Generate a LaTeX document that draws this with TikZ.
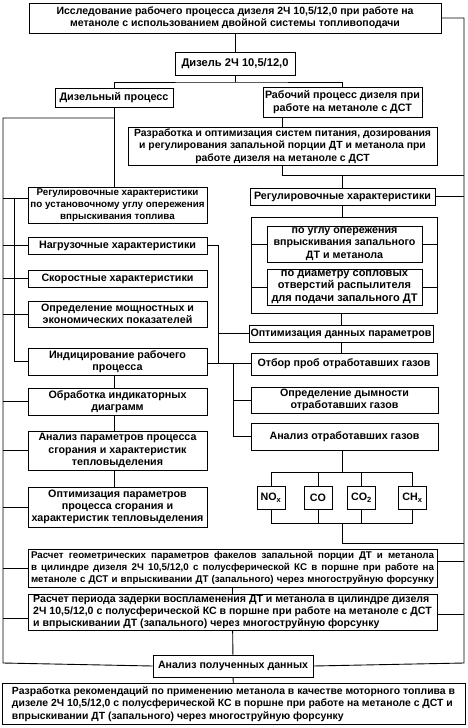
\documentclass[tikz,border=0pt]{standalone}
\usepackage{fontspec}
\setmainfont{Liberation Sans}
\usepackage{tikz}
% font size chosen so that the given line comes out #1 pt wide
\newlength{\fitw}
\newcommand{\fitfont}[2]{%
  \settowidth{\fitw}{\bfseries\fontsize{10}{12}\selectfont #2}%
  \pgfmathsetmacro{\fitsz}{10*#1/\fitw}%
  \bfseries\fontsize{\fitsz}{12.3}\selectfont}
\newcommand{\jline}[2]{\leavevmode\hbox to #1{\spaceskip=0pt\xspaceskip=0pt #2}}
\tikzstyle{sbox}=[rectangle, draw=black, line width=0.9pt, fill=white,
  font=\bfseries\fontsize{10.6}{12.3}\selectfont, align=center, inner sep=0pt]
\tikzstyle{wline}=[line width=0.9pt]
\tikzset{fitto/.style 2 args={font=\fitfont{#1}{#2}}}

\begin{document}
\begin{tikzpicture}[x=1pt,y=-1pt]
  \useasboundingbox (0,0) rectangle (467,728);
  % top of the tree
  \node[sbox, fitto={357}{Исследование рабочего процесса дизеля 2Ч 10,5/12,0 при работе на},
      minimum width=412pt, minimum height=30pt] (top) at (235,18)
    {Исследование рабочего процесса дизеля 2Ч 10,5/12,0 при работе на\\
     метаноле с использованием двойной системы топливоподачи};
  \node[sbox, fitto={107}{Дизель 2Ч 10,5/12,0}, minimum width=120pt, minimum height=23pt] (dizel) at (235,63.5)
    {Дизель 2Ч 10,5/12,0};
  \node[sbox, fitto={109}{Дизельный процесс}, minimum width=118pt, minimum height=19pt] (dproc) at (114,97.5)
    {Дизельный процесс};
  \node[sbox, fitto={155}{Рабочий процесс дизеля при}, minimum width=159pt, minimum height=30pt] (rproc) at (342.5,102)
    {Рабочий процесс дизеля при\\ работе на метаноле с ДСТ};
  \node[sbox, fitto={297}{Разработка и оптимизация систем питания, дозирования},
      minimum width=309pt, minimum height=38pt] (razr) at (282.5,146)
    {Разработка и оптимизация систем питания, дозирования\\
     и регулирования запальной порции ДТ и метанола при\\
     работе дизеля на метаноле с ДСТ};
  % left column
  \node[sbox, fitto={174}{по установочному углу опережения}, minimum width=179pt, minimum height=36pt] (regL) at (117.5,205)
    {Регулировочные характеристики\\ по установочному углу опережения\\ впрыскивания топлива};
  \node[sbox, fitto={157}{Нагрузочные характеристики}, minimum width=179pt, minimum height=17pt] (nagr) at (117.5,245.5)
    {Нагрузочные характеристики};
  \node[sbox, fitto={152}{Скоростные характеристики}, minimum width=179pt, minimum height=17pt] (skor) at (117.5,278.5)
    {Скоростные характеристики};
  \node[sbox, fitto={153}{Определение мощностных и}, minimum width=179pt, minimum height=26pt] (opr) at (117.5,314)
    {Определение мощностных и\\ экономических показателей};
  \node[sbox, fitto={137}{Индицирование рабочего}, minimum width=179pt, minimum height=27pt] (indic) at (117.5,361.5)
    {Индицирование рабочего\\ процесса};
  \node[sbox, fitto={138}{Обработка индикаторных}, minimum width=179pt, minimum height=27pt] (obr) at (117.5,401.5)
    {Обработка индикаторных\\ диаграмм};
  \node[sbox, fitto={158}{Анализ параметров процесса}, minimum width=179pt, minimum height=39pt] (anP) at (117.5,450.5)
    {Анализ параметров процесса\\ сгорания и характеристик\\ тепловыделения};
  \node[sbox, fitto={172}{характеристик тепловыделения}, minimum width=179pt, minimum height=40pt] (optS) at (117.5,507)
    {Оптимизация параметров\\ процесса сгорания и\\ характеристик тепловыделения};
  % right column
  \node[sbox, fitto={177}{Регулировочные характеристики}, minimum width=185pt, minimum height=17pt] (regR) at (342.5,196.5)
    {Регулировочные характеристики};
  \node[sbox, fill=none, minimum width=186pt, minimum height=96pt] (frame) at (344,265) {};
  \node[sbox, fitto={142}{впрыскивания запального}, minimum width=155pt, minimum height=36pt] (ugol) at (344.5,244)
    {по углу опережения\\ впрыскивания запального\\ ДТ и метанола};
  \node[sbox, fitto={146}{для подачи запального ДТ}, minimum width=155pt, minimum height=36pt] (diam) at (344.5,287)
    {по диаметру сопловых\\ отверстий распылителя\\ для подачи запального ДТ};
  \node[sbox, fitto={181}{Оптимизация данных параметров}, minimum width=184pt, minimum height=17pt] (optP) at (341,333.5)
    {Оптимизация данных параметров};
  \node[sbox, fitto={173}{Отбор проб отработавших газов}, minimum width=186pt, minimum height=22pt] (otbor) at (344,364)
    {Отбор проб отработавших газов};
  \node[sbox, fitto={129}{Определение дымности}, minimum width=187pt, minimum height=26pt] (dym) at (344.5,400)
    {Определение дымности\\ отработавших газов};
  \node[sbox, fitto={150}{Анализ отработавших газов}, minimum width=187pt, minimum height=27pt] (analOG) at (344.5,436.5)
    {Анализ отработавших газов};
  \foreach \g/\x/\t in {nox/271/NO\textsubscript{x}, co/318/CO,
      coo/361.5/CO\textsubscript{2}, chx/412.5/CH\textsubscript{x}}
    \node[sbox, font=\bfseries\fontsize{10.7}{12.3}\selectfont, minimum width=28pt, minimum height=23pt] (\g) at (\x,497.5) {\t};
  % bottom of the tree
  \node[sbox, fitto={399}{метаноле с ДСТ и впрыскивании ДТ (запального) через многоструйную форсунку},
      align=left, minimum width=409pt, minimum height=38pt] (rasG) at (232.5,568)
    {\jline{403pt}{Расчет геометрических параметров факелов запальной порции ДТ и метанола}\\
     \jline{403pt}{в цилиндре дизеля 2Ч 10,5/12,0 с полусферической КС в поршне при работе на}\\
     \jline{403pt}{метаноле с ДСТ и впрыскивании ДТ (запального) через многоструйную форсунку}};
  \node[sbox, fitto={396}{Расчет периода задерки воспламенения ДТ и метанола в цилиндре дизеля},
      align=left, minimum width=409pt, minimum height=36pt] (rasP) at (232.5,612)
    {Расчет периода задерки воспламенения ДТ и метанола в цилиндре дизеля\\
     2Ч 10,5/12,0 с полусферической КС в поршне при работе на метаноле с ДСТ\\
     и впрыскивании ДТ (запального) через многоструйную форсунку};
  \node[sbox, fitto={150}{Анализ полученных данных}, minimum width=160pt, minimum height=22pt] (anD) at (233,666)
    {Анализ полученных данных};
  \node[sbox, fitto={443}{Разработка рекомендаций по применению метанола в качестве моторного топлива в},
      align=left, minimum width=463pt, minimum height=41pt] (fin) at (233.5,704)
    {Разработка рекомендаций по применению метанола в качестве моторного топлива в\\
     дизеле 2Ч 10,5/12,0 с полусферической КС в поршне при работе на метаноле с ДСТ и\\
     впрыскивании ДТ (запального) через многоструйную форсунку};

  % junctions and spines
  \coordinate (jD) at (235,82);
  \coordinate (lsT) at (3,118);
  \coordinate (lsB) at (3,663);
  \coordinate (ls2) at (14,198);
  \coordinate (rsB) at (464,663);
  \coordinate (rsR) at (464,175);
  \coordinate (nJ) at (218,363);
  \coordinate (gJ) at (233,363);
  \coordinate (gT) at (342,472);
  \coordinate (gB) at (342,523);
  \coordinate (gR) at (464,543);

  \draw[wline] (top) -- (dizel);
  \draw[wline] (dizel.south) -- (jD);
  \draw[wline] (dproc.north) |- (jD) -| (rproc.north);
  \draw[wline] (top.east) -| (rsB) -- (anD.east);
  \draw[wline] (dproc.south) -- (dproc.south |- regL.north);
  \draw[wline] (dproc.south |- lsT) -- (lsT) -- (lsB) -- (anD.west);
  \draw[wline] ([yshift=7pt]regL.west) -- ([yshift=7pt]regL.west -| lsT);
  \foreach \n in {nagr, skor, opr, obr, anP, optS, rasG}
    \draw[wline] (\n.west) -- (\n.west -| lsT);
  \draw[wline] ([yshift=-6pt]rasP.west) -- ([yshift=-6pt]rasP.west -| lsT);
  \draw[wline] (ls2) |- (indic.west);
  \draw[wline] (indic.south -| dproc.south) -- (obr.north -| dproc.south);
  \draw[wline] (obr.south -| dproc.south) -- (anP.north -| dproc.south);
  \draw[wline] (anP.south -| dproc.south) -- (optS.north -| dproc.south);
  % right branch
  \draw[wline] (razr.north) -- (razr.north |- rproc.south);
  \draw[wline] (razr.south) |- (rsR);
  \draw[wline] (regR.north) -- (regR.north |- rsR);
  \draw[wline] (regR.east) -- (regR.east -| rsB);
  \draw[wline] (regR.south) -- (regR.south |- frame.north);
  \foreach \n in {ugol, diam} {
    \draw[wline] (\n.west) -- (\n.west -| frame.west);
    \draw[wline] (\n.east) -- (\n.east -| frame.east);
  }
  \draw[wline] (optP.north) -- (optP.north |- frame.south);
  \draw[wline] (optP.south) -- (optP.south |- otbor.north);
  \draw[wline] (nagr.east) -| (nJ);
  \draw[wline] (optP.west) -- (optP.west -| nJ);
  \draw[wline] (indic.east |- nJ) -- (otbor.west |- nJ);
  \draw[wline] (gJ) |- (analOG.west);
  \draw[wline] (dym.west) -- (dym.west -| gJ);
  % gases
  \draw[wline] (analOG.south -| gT) -- (gT);
  \draw[wline] (nox.north |- gT) -- (chx.north |- gT);
  \draw[wline] (nox.south |- gB) -- (chx.south |- gB);
  \foreach \g in {nox, co, coo, chx} {
    \draw[wline] (\g.north) -- (\g.north |- gT);
    \draw[wline] (\g.south) -- (\g.south |- gB);
  }
  \draw[wline] (gB) |- (gR);
  \draw[wline] ([yshift=7pt]rasG.east) -- ([yshift=7pt]rasG.east -| rsB);
  \draw[wline] ([yshift=-2pt]rasP.east) -- ([yshift=-2pt]rasP.east -| rsB);
  \draw[wline] (rasG) -- (rasP);
  \draw[wline] (rasP) -- (anD);
  \draw[wline] (anD) -- (fin);
\end{tikzpicture}
\end{document}
